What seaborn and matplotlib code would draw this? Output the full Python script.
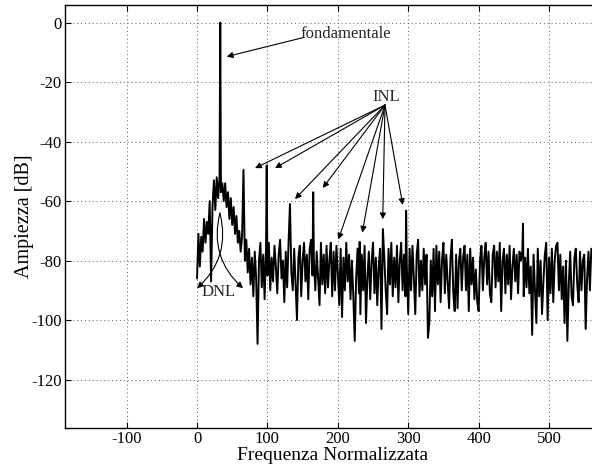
import numpy as np
import pandas as pd
import matplotlib
matplotlib.use('Agg')
import matplotlib.pyplot as plt
import seaborn as sns

# noise floor, one value every 2 frequency units starting at 0
noise_db = [
    -86, -71, -82, -72, -77, -66, -74, -67, -71, -60,
    -87, -62, -53, -63, -52, -59, -52, -57, -54, -60,
    -54, -62, -57, -66, -59, -68, -62, -71, -65, -74,
    -70, -77, -72, -74, -80, -73, -84, -76, -88, -79,
    -92, -77, -86, -108, -80, -74, -89, -78, -93, -76,
    -85, -74, -90, -79, -87, -75, -82, -91, -78, -73,
    -86, -80, -94, -77, -89, -74, -80, -84, -90, -76,
    -88, -100, -79, -75, -92, -80, -74, -87, -78, -93,
    -76, -73, -85, -80, -90, -77, -86, -95, -74, -88,
    -78, -91, -75, -89, -80, -74, -92, -77, -90, -80,
    -84, -95, -76, -99, -79, -90, -74, -87, -78, -93,
    -80, -92, -107, -86, -76, -91, -98, -78, -90, -75,
    -101, -86, -77, -93, -80, -74, -91, -79, -95, -82,
    -76, -103, -80, -79, -90, -98, -76, -88, -74, -92,
    -79, -89, -75, -94, -80, -74, -90, -78, -92, -82,
    -98, -76, -90, -75, -86, -98, -78, -73, -92, -80,
    -90, -76, -88, -78, -106, -101, -80, -92, -76, -97,
    -75, -88, -77, -94, -80, -74, -91, -78, -87, -96,
    -79, -73, -91, -97, -78, -96, -80, -76, -90, -79,
    -75, -90, -78, -97, -76, -88, -79, -93, -83, -94,
    -97, -80, -75, -90, -79, -74, -88, -77, -91, -94,
    -78, -75, -89, -77, -87, -74, -97, -80, -76, -91,
    -78, -88, -75, -93, -82, -76, -87, -78, -91, -77,
    -80, -77, -92, -79, -89, -76, -91, -82, -105, -78,
    -90, -101, -76, -92, -80, -98, -87, -78, -74, -100,
    -79, -91, -76, -94, -80, -75, -74, -90, -78, -93,
    -82, -101, -80, -107, -88, -77, -92, -95, -79, -76,
    -88, -94, -77, -90, -80, -78, -103, -86, -77, -90,
    -76,
]
noise_step = 2

# fundamental and harmonic spurs
spur_freq = [33, 66, 99, 132, 165, 198, 231, 264, 297, 463]
spur_db = [0, -49.5, -48, -61, -57, -75, -73.7, -69.4, -63.2, -67.6]

x_ticks = [-100, 0, 100, 200, 300, 400, 500]
y_ticks = [-120, -100, -80, -60, -40, -20, 0]

# annotation anchors (data coords)
inl_origin = (267, -27.7)
inl_tips_x = [82.4, 110.8, 139.2, 178.6, 200.7, 234.8, 263.8, 292.2]
inl_tips_y = [-48.9, -48.9, -59.3, -55.6, -72.9, -70.6, -66.1, -61.3]
fond_start = (151, -5.0)
fond_tip = (42.2, -11.4)
dnl_origin = (32.5, -64)
dnl_tips_x = [0.0, 65.3]
dnl_tips_y = [-89.3, -89.3]

noise_freq = np.arange(len(noise_db)) * noise_step
df_noise = pd.DataFrame({'freq': noise_freq, 'db': noise_db})
df_noise = df_noise[~df_noise['freq'].isin(spur_freq)]
df_spur = pd.DataFrame({'freq': spur_freq, 'db': spur_db})
df = pd.concat([df_noise, df_spur]).sort_values('freq').reset_index(drop=True)

sns.set_theme(style='ticks')
plt.rcParams['font.family'] = ['Liberation Serif', 'DejaVu Serif']

fig = plt.figure(figsize=(5.92, 4.67), dpi=100)
fig.patch.set_facecolor('white')
ax = fig.add_axes([65 / 592, 1 - 428 / 467, 527 / 592, 423 / 467])
ax.set_facecolor('white')

sns.lineplot(data=df, x='freq', y='db', ax=ax, color='black', linewidth=1.4,
             estimator=None, sort=True)

ax.set_xlim(-187.5, 561)
ax.set_ylim(-136.3, 5.95)
ax.set_xticks(x_ticks)
ax.set_yticks(y_ticks)
ax.set_xticklabels([str(v) for v in x_ticks])
ax.set_yticklabels([str(v) for v in y_ticks])
ax.grid(True, linestyle=(0, (1, 3)), color='0.35', linewidth=0.7)
ax.tick_params(direction='in', length=4, width=0.8, top=True, right=False,
               labelsize=12, colors='black')
ax.tick_params(axis='y', pad=2.5)
ax.tick_params(axis='x', pad=2.5)
for s in ['left', 'bottom', 'top']:
    ax.spines[s].set_linewidth(1.0)
    ax.spines[s].set_color('black')
ax.spines['right'].set_visible(False)

ax.set_xlabel('Frequenza Normalizzata', fontsize=14, color='black')
ax.set_ylabel('Ampiezza [dB]', fontsize=14.5, color='black')
ax.xaxis.set_label_coords(0.507, -0.045)
ax.yaxis.set_label_coords(-0.058, 0.5)

aprops = dict(arrowstyle='-|>', color='black', lw=0.8, mutation_scale=9,
              shrinkA=0, shrinkB=0)

# fondamentale
ax.text(146.3, -5.0, 'fondamentale', fontsize=12, ha='left', va='baseline')
ax.annotate('', xy=fond_tip, xytext=fond_start, arrowprops=aprops)

# INL
ax.text(268.5, -26.3, 'INL', fontsize=12, ha='center', va='baseline')
for tx, ty in zip(inl_tips_x, inl_tips_y):
    ax.annotate('', xy=(tx, ty), xytext=inl_origin, arrowprops=aprops)

# DNL
ax.text(31.3, -91.9, 'DNL', fontsize=12, ha='center', va='baseline')
rads = [-0.3, 0.3]
for tx, ty, r in zip(dnl_tips_x, dnl_tips_y, rads):
    p = dict(aprops)
    p['connectionstyle'] = f'arc3,rad={r}'
    ax.annotate('', xy=(tx, ty), xytext=dnl_origin, arrowprops=p)

fig.savefig('out.png', dpi=100, facecolor='white')
